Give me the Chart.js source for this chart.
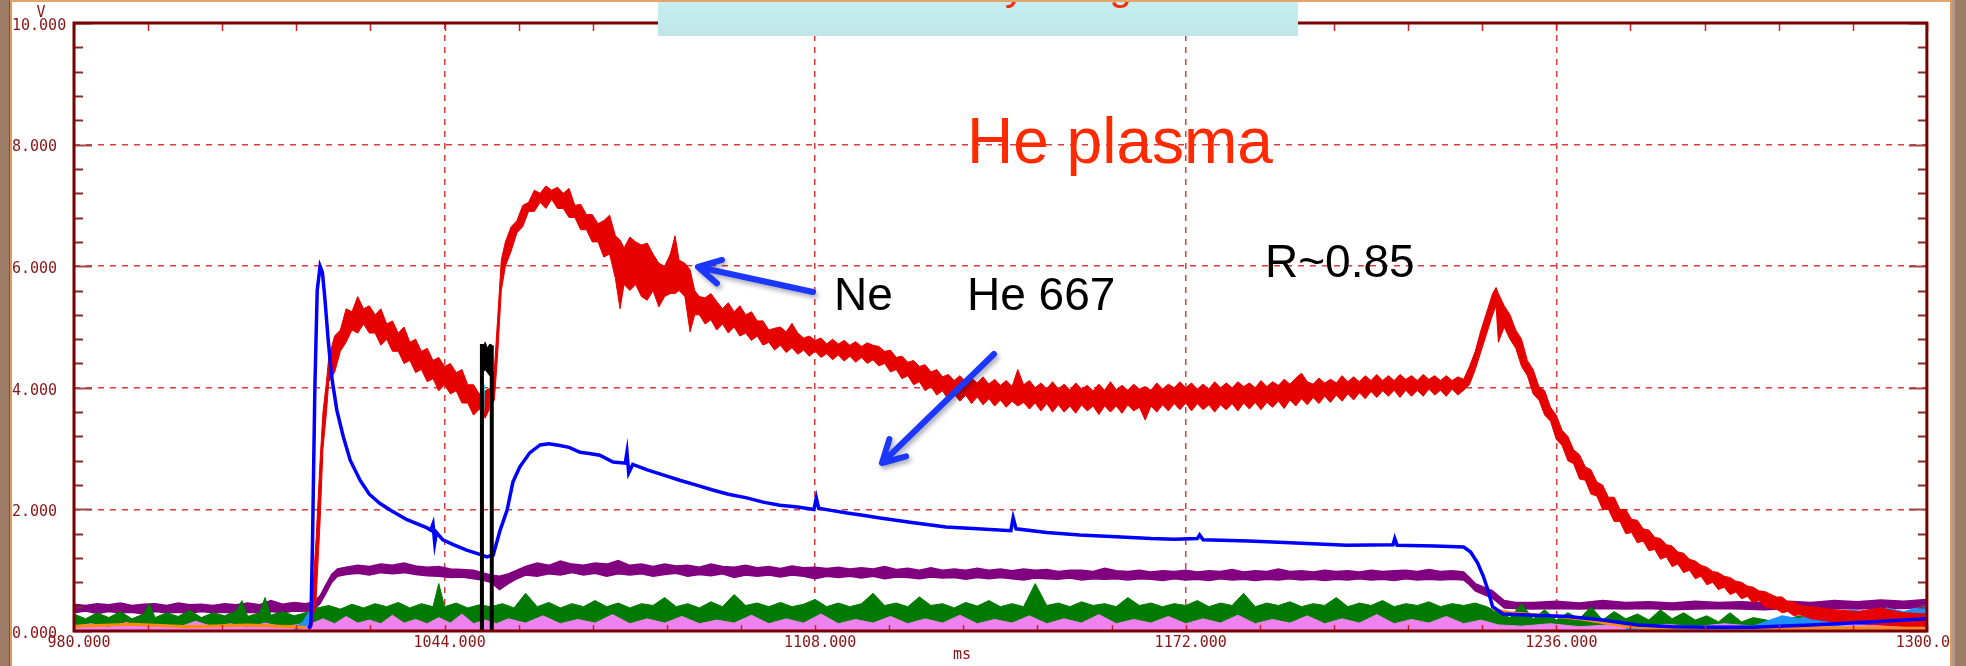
<!DOCTYPE html>
<html>
<head>
<meta charset="utf-8">
<script src="https://cdn.jsdelivr.net/npm/chart.js@4.4.0/dist/chart.umd.min.js"></script>
<style>
  html, body { margin: 0; padding: 0; background: #fff; }
  #wrap { position: relative; width: 1966px; height: 666px; overflow: hidden; background: #fff; }
  #c { position: absolute; left: 0; top: 0; }
  .edge { position: absolute; }
</style>
</head>
<body>
<div id="wrap">
  <canvas id="c" width="1966" height="666"></canvas>
  <div class="edge" style="left:0;top:0;width:9px;height:666px;background:#9c7c66"></div>
  <div class="edge" style="left:9px;top:0;width:1px;height:666px;background:#6e5646"></div>
  <div class="edge" style="left:10px;top:0;width:2px;height:666px;background:#e29a5a"></div>
  <div class="edge" style="left:10px;top:0;width:1942px;height:2px;background:#e2a46a"></div>
  <div class="edge" style="left:1950px;top:0;width:2px;height:666px;background:#e29a5a"></div>
  <div class="edge" style="left:1952px;top:0;width:3px;height:666px;background:#b4968a"></div>
  <div class="edge" style="left:1955px;top:0;width:11px;height:666px;background:#9c7c66"></div>
</div>
<script>
// axis ticks (ms, V)
var xTicks = [980, 1044, 1108, 1172, 1236, 1300];
var yTicks = [0, 2, 4, 6, 8, 10];

// Ne line (red): [ms, low edge, high edge] of the noisy trace
var neBand = [
  [1020.5,0.02,0.06],[1021.0,0.05,0.3],[1021.8,0.5,1.5],[1022.5,1.8,2.8],[1023.0,3.0,3.6],[1023.6,3.6,4.1],
  [1024,4.1,4.5],[1025,4.25,4.85],[1026,4.6,4.95],[1027,4.75,5.3],[1028,4.95,5.25],[1029,4.9,5.5],[1030,5.05,5.3],
  [1031,4.9,5.35],[1032,4.9,5.2],[1033,4.7,5.3],[1034,4.8,5.05],[1035,4.6,5.1],[1036,4.6,4.9],[1037,4.4,5.0],
  [1038,4.45,4.75],[1039,4.25,4.8],[1040,4.3,4.6],[1041,4.1,4.65],[1042,4.15,4.45],[1043,3.95,4.5],[1044,4.05,4.35],
  [1045,3.9,4.4],[1046,3.95,4.25],[1047,3.75,4.3],[1048,3.75,4.05],[1049,3.55,4.05],[1050,3.65,3.9],[1051,3.5,3.95],
  [1052,3.7,4.0],[1052.6,3.8,4.3],[1053.2,4.6,5.2],[1053.8,5.6,6.1],[1054.5,6.0,6.4],[1055.5,6.25,6.65],
  [1056.5,6.55,6.75],[1057.5,6.65,7.0],[1058.5,6.9,7.05],[1059.5,6.9,7.25],[1060.5,7.05,7.2],[1061.5,6.95,7.32],
  [1062.5,7.1,7.25],[1063.5,6.95,7.3],[1064.5,6.95,7.2],[1065.5,6.8,7.28],[1066.5,6.8,7.0],[1067.5,6.6,7.02],
  [1068.5,6.6,6.85],[1069.5,6.4,6.85],[1070.5,6.4,6.7],[1071.5,6.15,6.75],[1072.5,6.2,6.84],[1073.5,5.8,6.5],
  [1074.3,5.3,6.43],[1075.0,5.7,6.3],[1076.0,5.6,6.48],[1077.0,5.7,6.4],[1078.0,5.5,6.35],[1079.0,5.44,6.38],
  [1080.0,5.6,6.2],[1081.0,5.33,6.05],[1082.0,5.5,6.0],[1083.0,5.55,6.2],[1083.8,5.55,6.5],[1084.5,5.6,6.1],
  [1085.5,5.5,6.05],[1086.4,4.92,5.94],[1087.2,5.2,5.6],[1088,5.2,5.5],[1089,5.05,5.48],[1090,5.12,5.55],
  [1091,4.95,5.42],[1092,5.05,5.3],[1093,4.9,5.4],[1094,5.0,5.25],[1095,4.85,5.35],[1096,4.9,5.2],[1097,4.78,5.25],
  [1098,4.85,5.1],[1099,4.7,5.1],[1100,4.75,4.95],[1101,4.62,4.98],[1102,4.7,5.0],[1103,4.58,4.92],[1104,4.66,5.06],
  [1105,4.55,4.9],[1106,4.62,4.82],[1107,4.52,4.85],[1108,4.6,4.78],[1109,4.5,4.82],[1110,4.56,4.72],[1111,4.46,4.8],
  [1112,4.54,4.72],[1113,4.44,4.78],[1114,4.52,4.7],[1115,4.42,4.76],[1116,4.5,4.68],[1117,4.4,4.74],[1118,4.46,4.7],
  [1119,4.36,4.68],[1120,4.4,4.6],[1121,4.26,4.62],[1122,4.3,4.5],[1123,4.15,4.52],[1124,4.2,4.42],[1125,4.05,4.45],
  [1126,4.1,4.35],[1127,3.95,4.38],[1128,4.02,4.26],[1129,3.88,4.3],[1130,3.95,4.18],[1131,3.8,4.22],[1132,3.9,4.12],
  [1133,3.78,4.2],[1134,3.88,4.1],[1135,3.74,4.16],[1136,3.85,4.08],[1137,3.72,4.18],[1138,3.82,4.06],[1139,3.7,4.14],
  [1140,3.8,4.04],[1141,3.68,4.12],[1142,3.78,4.02],[1143,3.7,4.3],[1144,3.76,4.05],[1145,3.65,4.12],[1146,3.75,4.0],
  [1147,3.62,4.08],[1148,3.74,3.98],[1149,3.6,4.1],[1150,3.72,3.98],[1151,3.6,4.06],[1152,3.7,3.96],[1153,3.58,4.08],
  [1154,3.72,3.98],[1155,3.62,4.04],[1156,3.7,3.95],[1157,3.56,4.06],[1158,3.7,3.96],[1159,3.6,4.1],[1160,3.7,3.97],
  [1161,3.58,4.04],[1162,3.72,3.96],[1163,3.62,4.06],[1164,3.68,3.98],[1165,3.47,4.02],[1166,3.7,3.96],[1167,3.6,4.08],
  [1168,3.72,3.98],[1169,3.62,4.06],[1170,3.74,4.0],[1171,3.64,4.1],[1172,3.75,4.0],[1173,3.62,4.08],[1174,3.74,3.98],
  [1175,3.64,4.06],[1176,3.72,3.98],[1177,3.6,4.1],[1178,3.72,4.0],[1179,3.64,4.08],[1180,3.74,4.0],[1181,3.62,4.1],
  [1182,3.75,4.02],[1183,3.65,4.08],[1184,3.76,4.0],[1185,3.64,4.12],[1186,3.76,4.02],[1187,3.68,4.1],[1188,3.78,4.04],
  [1189,3.66,4.14],[1190,3.8,4.06],[1191,3.7,4.16],[1192,3.82,4.24],[1193,3.72,4.1],[1194,3.84,4.06],[1195,3.74,4.16],
  [1196,3.86,4.08],[1197,3.76,4.14],[1198,3.88,4.08],[1199,3.78,4.2],[1200,3.9,4.1],[1201,3.8,4.18],[1202,3.92,4.1],
  [1203,3.82,4.2],[1204,3.94,4.12],[1205,3.84,4.22],[1206,3.95,4.12],[1207,3.86,4.2],[1208,3.96,4.12],[1209,3.84,4.22],
  [1210,3.96,4.14],[1211,3.86,4.2],[1212,3.96,4.12],[1213,3.86,4.22],[1214,3.98,4.14],[1215,3.88,4.2],[1216,3.96,4.12],
  [1217,3.86,4.2],[1218,3.98,4.12],[1219,3.88,4.18],[1220,3.96,4.14],[1221.0,4.05,4.35],[1222.0,4.3,4.6],
  [1223.0,4.6,4.95],[1224.0,4.9,5.25],[1225.0,5.2,5.55],[1225.6,5.35,5.65],[1226,4.75,5.55],[1227,5.0,5.35],
  [1228,4.8,5.2],[1229,4.65,4.95],[1230,4.35,4.8],[1231,4.2,4.45],[1232,3.9,4.3],[1233,3.8,4.02],[1234,3.55,3.95],
  [1235,3.45,3.68],[1236,3.15,3.55],[1237,3.05,3.3],[1238,2.8,3.2],[1239,2.75,2.98],[1240,2.5,2.9],[1241,2.48,2.7],
  [1242,2.25,2.65],[1243,2.22,2.45],[1244,2.0,2.4],[1245,2.0,2.2],[1246,1.8,2.2],[1247,1.8,2.0],[1248,1.6,2.0],
  [1249,1.62,1.84],[1250,1.45,1.82],[1251,1.48,1.68],[1252,1.32,1.66],[1253,1.34,1.54],[1254,1.18,1.52],[1255,1.22,1.42],
  [1256,1.06,1.4],[1257,1.1,1.3],[1258,0.96,1.28],[1259,1.0,1.18],[1260,0.86,1.15],[1261,0.9,1.08],[1262,0.76,1.05],
  [1263,0.8,0.98],[1264,0.68,0.96],[1265,0.72,0.9],[1266,0.6,0.88],[1267,0.64,0.82],[1268,0.53,0.8],[1269,0.57,0.74],
  [1270,0.46,0.72],[1271,0.5,0.66],[1272,0.4,0.65],[1274,0.36,0.56],[1275,0.3,0.56],[1276,0.32,0.48],[1277,0.25,0.48],
  [1278,0.27,0.42],[1280,0.2,0.4],[1284,0.15,0.35],[1288,0.12,0.32],[1292,0.1,0.38],[1296,0.08,0.3],[1300,0.08,0.28]
];

// He 667 line (blue): [ms, V]
var he667 = [
  [1020.5,0.04],[1020.9,0.1],[1021.2,1.5],[1021.6,4.0],[1022.0,5.6],[1022.5,6.0],[1022.9,5.9],[1023.3,5.5],
  [1023.9,4.79],[1024.5,4.18],[1025.4,3.63],[1026.5,3.2],[1027.7,2.81],[1029.4,2.48],[1031,2.25],[1032.8,2.1],
  [1034.6,1.99],[1037.5,1.83],[1040.9,1.7],[1041.6,1.66],[1042.0,1.76],[1042.3,1.45],[1042.6,1.62],[1043.7,1.5],
  [1045.5,1.42],[1047.8,1.33],[1050.1,1.26],[1051.3,1.22],[1052.4,1.25],[1053.6,1.66],[1054.8,1.99],[1055.8,2.45],
  [1057,2.7],[1058.7,2.93],[1060.5,3.06],[1062,3.08],[1063.9,3.05],[1065.5,3.02],[1067.4,2.94],[1069,2.92],
  [1070.8,2.89],[1073.1,2.78],[1075.2,2.76],[1075.5,2.94],[1075.8,2.6],[1076.5,2.74],[1079,2.65],[1082,2.56],
  [1084.6,2.48],[1087.5,2.4],[1090.3,2.32],[1093,2.25],[1096.2,2.19],[1099,2.12],[1101.9,2.07],[1105,2.04],
  [1107.8,2.0],[1108.2,2.19],[1108.6,2.02],[1111,1.98],[1113.5,1.94],[1116.5,1.9],[1119.2,1.86],[1125,1.78],
  [1130.6,1.71],[1136,1.68],[1141.8,1.65],[1142.2,1.86],[1142.7,1.68],[1148,1.62],[1153.7,1.58],[1160,1.55],
  [1166,1.52],[1170,1.51],[1174,1.52],[1174.4,1.58],[1175,1.5],[1182.9,1.48],[1190,1.45],[1199.8,1.41],
  [1207.8,1.42],[1208.1,1.52],[1208.5,1.41],[1215,1.4],[1220,1.38],[1221.2,1.3],[1222.4,1.12],[1223.4,0.9],
  [1224.2,0.67],[1225,0.4],[1226.8,0.28],[1232,0.26],[1238,0.24],[1244,0.18],[1250,0.1],[1256,0.07],
  [1262,0.06],[1270,0.06],[1280,0.1],[1290,0.15],[1300,0.2]
];

// purple channel: [ms, low, high]
var purpleBand = [
  [980,0.3,0.44],[982,0.33,0.42],[984,0.29,0.45],[986,0.32,0.43],[988,0.3,0.46],[990,0.31,0.42],[992,0.28,0.44],
  [994,0.32,0.45],[996,0.3,0.42],[998,0.31,0.46],[1000,0.29,0.43],[1002,0.32,0.44],[1004,0.3,0.42],[1006,0.31,0.45],
  [1008,0.29,0.43],[1010,0.31,0.46],[1012,0.3,0.43],[1014,0.32,0.5],[1016,0.3,0.44],[1018,0.33,0.47],[1020,0.32,0.45],
  [1021.5,0.36,0.48],[1022.5,0.45,0.58],[1023.5,0.62,0.76],[1024.5,0.8,0.93],[1025.5,0.9,1.02],[1027,0.93,1.05],
  [1029,0.95,1.08],[1031,0.92,1.06],[1033,0.96,1.1],[1035,0.94,1.08],[1037,0.96,1.12],[1039,0.93,1.07],[1041,0.91,1.05],
  [1043,0.9,1.06],[1045,0.88,1.02],[1047,0.89,1.01],[1049,0.86,1.0],[1050.5,0.84,0.96],[1052,0.8,0.92],[1053.5,0.68,0.9],
  [1055,0.78,0.94],[1056.5,0.86,1.0],[1058,0.92,1.06],[1060,0.9,1.12],[1062,0.94,1.08],[1064,0.92,1.15],[1066,0.96,1.1],
  [1068,0.92,1.08],[1070,0.95,1.12],[1072,0.9,1.1],[1074,0.94,1.16],[1076,0.92,1.08],[1078,0.94,1.1],[1080,0.9,1.06],
  [1082,0.93,1.1],[1084,0.95,1.07],[1086,0.9,1.08],[1088,0.93,1.05],[1090,0.91,1.1],[1092,0.94,1.06],[1094,0.88,1.05],
  [1096,0.92,1.08],[1098,0.9,1.04],[1100,0.92,1.06],[1102,0.89,1.03],[1104,0.92,1.07],[1106,0.9,1.04],[1108,0.86,1.05],
  [1110,0.9,1.03],[1112,0.88,1.05],[1114,0.9,1.02],[1116,0.87,1.04],[1118,0.9,1.02],[1120,0.86,1.06],[1122,0.89,1.01],
  [1124,0.88,1.03],[1126,0.86,1.0],[1128,0.89,1.04],[1130,0.87,1.0],[1132,0.88,1.02],[1134,0.85,1.0],[1136,0.88,1.03],
  [1138,0.86,1.0],[1140,0.88,1.02],[1142,0.86,0.99],[1144,0.84,1.02],[1146,0.87,1.0],[1148,0.86,1.01],[1150,0.85,0.98],
  [1152,0.87,1.0],[1154,0.84,1.0],[1156,0.86,0.98],[1158,0.85,1.03],[1160,0.86,0.99],[1162,0.84,0.98],[1164,0.86,1.0],
  [1166,0.85,0.97],[1168,0.83,0.99],[1170,0.86,0.98],[1172,0.84,1.0],[1174,0.85,0.97],[1176,0.83,0.99],[1178,0.86,0.98],
  [1180,0.84,1.01],[1182,0.85,0.97],[1184,0.83,0.99],[1186,0.85,0.98],[1188,0.84,1.02],[1190,0.86,0.98],[1192,0.84,0.99],
  [1194,0.85,0.97],[1196,0.83,1.0],[1198,0.85,0.98],[1200,0.84,0.99],[1202,0.86,0.97],[1204,0.84,1.0],[1206,0.85,0.98],
  [1208,0.83,0.99],[1210,0.86,1.0],[1212,0.84,0.98],[1214,0.85,1.01],[1216,0.84,0.98],[1218,0.85,0.99],[1220,0.84,0.97],
  [1221,0.76,0.88],[1222,0.66,0.78],[1223.5,0.6,0.72],[1225,0.54,0.66],[1226,0.46,0.58],[1227,0.38,0.5],[1229,0.37,0.47],
  [1232,0.36,0.47],[1236,0.37,0.49],[1240,0.36,0.46],[1244,0.37,0.5],[1248,0.36,0.47],[1252,0.37,0.48],[1256,0.35,0.46],
  [1260,0.36,0.49],[1264,0.37,0.47],[1268,0.36,0.48],[1272,0.35,0.46],[1276,0.37,0.49],[1280,0.36,0.47],[1284,0.37,0.5],
  [1288,0.36,0.48],[1292,0.38,0.51],[1296,0.37,0.49],[1300,0.39,0.52]
];

// green channel, top of trace: [ms, V]
var greenTop = [
  [980,0.28],[982,0.2],[984,0.3],[986,0.22],[988,0.32],[990,0.2],[992,0.28],[993,0.45],[994,0.22],[996,0.3],
  [998,0.24],[1000,0.34],[1002,0.22],[1004,0.3],[1006,0.25],[1008,0.33],[1009,0.5],[1010,0.24],[1012,0.3],[1013,0.55],
  [1014,0.26],[1016,0.32],[1018,0.25],[1020,0.3],[1021,0.33],[1022,0.38],[1024,0.42],[1026,0.36],[1028,0.44],[1030,0.38],
  [1032,0.45],[1034,0.4],[1036,0.47],[1038,0.38],[1040,0.45],[1042,0.4],[1043,0.78],[1044,0.4],[1046,0.46],[1048,0.38],
  [1050,0.43],[1052,0.4],[1054,0.45],[1056,0.38],[1058,0.62],[1060,0.4],[1062,0.47],[1064,0.38],[1066,0.45],[1068,0.4],
  [1070,0.5],[1072,0.4],[1074,0.46],[1076,0.38],[1078,0.45],[1080,0.42],[1082,0.55],[1084,0.4],[1086,0.45],[1088,0.38],
  [1090,0.48],[1092,0.4],[1094,0.6],[1096,0.42],[1098,0.46],[1100,0.4],[1102,0.47],[1104,0.4],[1106,0.44],[1108,0.52],
  [1110,0.4],[1112,0.46],[1114,0.4],[1116,0.45],[1118,0.62],[1120,0.42],[1122,0.46],[1124,0.4],[1126,0.56],[1128,0.42],
  [1130,0.45],[1132,0.38],[1134,0.47],[1136,0.41],[1138,0.5],[1140,0.4],[1142,0.45],[1144,0.4],[1146,0.78],[1148,0.42],
  [1150,0.46],[1152,0.4],[1154,0.48],[1156,0.42],[1158,0.45],[1160,0.4],[1162,0.55],[1164,0.42],[1166,0.46],[1168,0.4],
  [1170,0.45],[1172,0.42],[1174,0.5],[1176,0.4],[1178,0.46],[1180,0.42],[1182,0.62],[1184,0.4],[1186,0.46],[1188,0.42],
  [1190,0.48],[1192,0.4],[1194,0.45],[1196,0.42],[1198,0.55],[1200,0.4],[1202,0.46],[1204,0.42],[1206,0.5],[1208,0.4],
  [1210,0.45],[1212,0.42],[1214,0.48],[1216,0.4],[1218,0.45],[1220,0.42],[1222,0.46],[1224,0.4],[1226,0.3],[1228,0.22],
  [1230,0.45],[1232,0.2],[1234,0.35],[1236,0.18],[1238,0.3],[1240,0.2],[1242,0.4],[1244,0.18],[1246,0.32],[1248,0.2],
  [1250,0.28],[1252,0.18],[1254,0.35],[1256,0.2],[1258,0.3],[1260,0.18],[1262,0.25],[1264,0.15],[1266,0.3],[1268,0.15],
  [1270,0.22],[1274,0.15],[1278,0.25],[1282,0.15],[1286,0.2],[1290,0.12],[1294,0.2],[1300,0.15]
];

// violet channel, top of trace: [ms, V]
var pinkTop = [
  [980,0.08],[983,0.12],[986,0.06],[989,0.14],[992,0.07],[995,0.11],[998,0.06],[1001,0.16],[1004,0.07],[1007,0.12],
  [1010,0.06],[1013,0.13],[1016,0.07],[1019,0.11],[1021,0.12],[1023,0.2],[1025,0.12],[1027,0.24],[1029,0.13],[1031,0.18],
  [1033,0.12],[1035,0.26],[1037,0.13],[1039,0.19],[1041,0.12],[1043,0.22],[1045,0.13],[1047,0.28],[1049,0.12],[1051,0.18],
  [1053,0.12],[1055,0.2],[1058,0.13],[1061,0.25],[1064,0.12],[1067,0.19],[1070,0.13],[1073,0.27],[1076,0.12],[1079,0.2],
  [1082,0.13],[1085,0.24],[1088,0.12],[1091,0.18],[1094,0.13],[1097,0.26],[1100,0.12],[1103,0.2],[1106,0.13],[1109,0.28],
  [1112,0.12],[1115,0.19],[1118,0.13],[1121,0.24],[1124,0.12],[1127,0.2],[1130,0.13],[1133,0.26],[1136,0.12],[1139,0.19],
  [1142,0.13],[1145,0.25],[1148,0.12],[1151,0.2],[1154,0.13],[1157,0.27],[1160,0.12],[1163,0.19],[1166,0.13],[1169,0.24],
  [1172,0.12],[1175,0.2],[1178,0.13],[1181,0.26],[1184,0.12],[1187,0.19],[1190,0.13],[1193,0.25],[1196,0.12],[1199,0.2],
  [1202,0.13],[1205,0.27],[1208,0.12],[1211,0.19],[1214,0.13],[1217,0.24],[1220,0.12],[1223,0.18],[1226,0.1],[1230,0.08],
  [1235,0.12],[1240,0.07],[1245,0.1],[1250,0.06],[1255,0.11],[1260,0.07],[1265,0.12],[1270,0.08],[1275,0.13],[1280,0.08],
  [1285,0.15],[1290,0.1],[1295,0.16],[1300,0.12]
];

// orange channel: [ms, V]  (null = no trace)
var orangeLine = [
  [980,0.08],[990,0.11],[1000,0.07],[1010,0.1],[1020,0.06],[1021,null],
  [1225,0.36],[1228,0.3],[1232,0.27],[1236,0.24],[1240,0.2],[1244,0.14],[1248,0.08],[1252,0.05],[1300,0.05]
];

// light blue channel: [ms, low, high]
var skyBand = [
  [1018,0.02,0.05],[1019.5,0.05,0.15],[1020.5,0.1,0.3],[1021,0.15,0.35],[1022,null,null],
  [1248,0.03,0.08],[1270,0.03,0.08],[1272,0.05,0.15],[1275,0.06,0.25],[1278,0.08,0.2],[1281,0.1,0.32],
  [1284,0.08,0.25],[1287,0.12,0.35],[1290,0.1,0.3],[1293,0.12,0.38],[1296,0.15,0.32],[1300,0.18,0.42]
];

// black channel pulse: [ms, low, high]
var blackBand = [
  [1050.2,4.2,4.72],[1050.6,4.25,4.62],[1051.0,4.3,4.75],[1051.4,4.25,4.65],[1051.8,4.2,4.72],[1052.2,4.25,4.7]
];
var blackLegs = [[1050.45,0,4.72],[1052.15,0,4.7]];

// cyan channel bits: [ms, V]
var cyanLine = [[1050.6,3.6],[1050.7,4.05],[1051,null],[1052.0,3.65],[1052.1,4.1]];

var FRAME = '#7a0000';
var LABEL = '#8b1414';
var MONO = '"DejaVu Sans Mono"';

function pts(rows, k) {
  return rows.map(function (r) { return { x: r[0], y: r[k] }; });
}
function lineSet(rows, color, w) {
  return { data: pts(rows, 1), borderColor: color, borderWidth: w, fill: false };
}
function bandSets(rows, color, w) {
  return [
    { data: pts(rows, 1), borderColor: color, borderWidth: w, fill: false },
    { data: pts(rows, 2), borderColor: color, backgroundColor: color, borderWidth: w, fill: '-1' }
  ];
}
function floorSet(rows, color, w) {
  return { data: pts(rows, 1), borderColor: color, backgroundColor: color, borderWidth: w, fill: { value: 0.01 } };
}

// first dataset is drawn on top
var datasets = [].concat(
  blackLegs.map(function (r) {
    return { data: [{ x: r[0], y: r[1] }, { x: r[0], y: r[2] }], borderColor: '#000', borderWidth: 4, fill: false };
  }),
  bandSets(blackBand, '#000000', 1),
  [lineSet(cyanLine, '#00e5ee', 3)],
  [lineSet(he667, '#0000ff', 3.5)],
  bandSets(neBand, '#e60000', 1),
  [lineSet(orangeLine, '#ff8c00', 3)],
  bandSets(skyBand, '#1e90ff', 1),
  [floorSet(pinkTop, '#ee82ee', 1)],
  [floorSet(greenTop, '#007a00', 1)],
  bandSets(purpleBand, '#800080', 1.5)
);

function arrow(ctx, x1, y1, x2, y2) {
  var ang = Math.atan2(y2 - y1, x2 - x1), h = 25, s = 0.5;
  ctx.beginPath();
  ctx.moveTo(x1, y1); ctx.lineTo(x2, y2);
  ctx.moveTo(x2 - h * Math.cos(ang - s), y2 - h * Math.sin(ang - s));
  ctx.lineTo(x2, y2);
  ctx.lineTo(x2 - h * Math.cos(ang + s), y2 - h * Math.sin(ang + s));
  ctx.stroke();
}

var decor = {
  id: 'decor',
  afterDatasetsDraw: function (chart) {
    var ctx = chart.ctx, a = chart.chartArea, x = chart.scales.x, y = chart.scales.y;
    ctx.save();
    // inward ticks on left / right, every 0.4 V
    for (var i = 0; i <= 25; i++) {
      var py = Math.round(y.getPixelForValue(i * 0.4)) + 0.5;
      var major = i % 5 === 0;
      var len = major ? 18 : 9;
      ctx.strokeStyle = major ? '#a04848' : '#8b2a2a';
      ctx.lineWidth = 2;
      ctx.beginPath();
      ctx.moveTo(a.left, py); ctx.lineTo(a.left + len, py);
      ctx.moveTo(a.right - len, py); ctx.lineTo(a.right, py);
      ctx.stroke();
    }
    // inward ticks on top / bottom, every 12.8 ms
    ctx.strokeStyle = '#d42020';
    ctx.lineWidth = 1.5;
    for (var j = 0; j <= 25; j++) {
      var px = Math.round(x.getPixelForValue(980 + j * 12.8)) + 0.5;
      ctx.beginPath();
      ctx.moveTo(px, a.top); ctx.lineTo(px, a.top + 8);
      ctx.moveTo(px, a.bottom); ctx.lineTo(px, a.bottom - 6);
      ctx.stroke();
    }
    ctx.strokeStyle = FRAME;
    ctx.lineWidth = 3;
    ctx.strokeRect(a.left, a.top, a.right - a.left, a.bottom - a.top);
    ctx.restore();
  },
  afterDraw: function (chart) {
    var ctx = chart.ctx;
    ctx.save();
    // axis units
    ctx.fillStyle = LABEL;
    ctx.font = '15px ' + MONO;
    ctx.textAlign = 'center';
    ctx.textBaseline = 'middle';
    ctx.fillText('V', 41, 13);
    ctx.fillText('ms', 962, 655);

    // annotations
    ctx.textAlign = 'left';
    ctx.textBaseline = 'alphabetic';
    ctx.fillStyle = '#ff2a00';
    ctx.font = '64px "Liberation Sans"';
    ctx.fillText('He plasma', 967, 163);
    ctx.fillStyle = '#000';
    ctx.font = '46px "Liberation Sans"';
    ctx.fillText('Ne', 834, 310);
    ctx.fillText('He 667', 967, 310);
    ctx.fillText('R~0.85', 1265, 277);

    // arrows
    ctx.strokeStyle = '#1a36ff';
    ctx.lineWidth = 6;
    ctx.lineCap = 'round';
    ctx.lineJoin = 'round';
    ctx.shadowColor = 'rgba(0,0,40,0.35)';
    ctx.shadowBlur = 5;
    ctx.shadowOffsetX = 2;
    ctx.shadowOffsetY = 3;
    arrow(ctx, 813, 292, 698, 267);
    arrow(ctx, 994, 354, 882, 463);
    ctx.shadowColor = 'transparent';

    // title box (cut off at the top of the picture)
    var g = ctx.createLinearGradient(0, 0, 0, 36);
    g.addColorStop(0, '#c6eff2');
    g.addColorStop(1, '#bfe5e8');
    ctx.fillStyle = g;
    ctx.fillRect(658, 0, 640, 36);
    ctx.fillStyle = '#ff2a00';
    ctx.font = '40px "Liberation Sans"';
    var pre = 'Line ratio measured b';
    var sx = 1005 - ctx.measureText(pre).width;
    ctx.save();
    ctx.beginPath(); ctx.rect(658, 0, 640, 36); ctx.clip();
    ctx.fillText('Line ratio measured by using', sx, 0);
    ctx.restore();
    ctx.restore();
  }
};

var tickFont = { family: 'DejaVu Sans Mono', size: 15 };
var gridOpts = { color: '#dc3c3c', lineWidth: 1.5, drawTicks: false };

new Chart(document.getElementById('c').getContext('2d'), {
  type: 'line',
  data: { datasets: datasets },
  options: {
    responsive: false,
    animation: false,
    devicePixelRatio: 1,
    parsing: false,
    spanGaps: false,
    layout: { padding: { left: 12, right: 39, top: 23, bottom: 0 } },
    elements: { line: { tension: 0 }, point: { radius: 0 } },
    plugins: { legend: { display: false }, tooltip: { enabled: false } },
    scales: {
      x: {
        type: 'linear',
        min: xTicks[0],
        max: xTicks[xTicks.length - 1],
        afterFit: function (s) { s.height = 35; },
        afterBuildTicks: function (s) { s.ticks = xTicks.map(function (v) { return { value: v }; }); },
        ticks: {
          callback: function (v) { return v.toFixed(3); },
          color: LABEL, font: tickFont, padding: 3, labelOffset: 5,
          maxRotation: 0, autoSkip: false
        },
        grid: gridOpts,
        border: { display: false, dash: [6, 6] }
      },
      y: {
        type: 'linear',
        min: yTicks[0],
        max: yTicks[yTicks.length - 1],
        afterFit: function (s) { s.width = 62; },
        afterBuildTicks: function (s) { s.ticks = yTicks.map(function (v) { return { value: v }; }); },
        ticks: {
          callback: function (v) { return v.toFixed(3); },
          color: LABEL, font: tickFont, crossAlign: 'far', labelOffset: 3
        },
        grid: gridOpts,
        border: { display: false, dash: [6, 6] }
      }
    }
  },
  plugins: [decor]
});
</script>
</body>
</html>
